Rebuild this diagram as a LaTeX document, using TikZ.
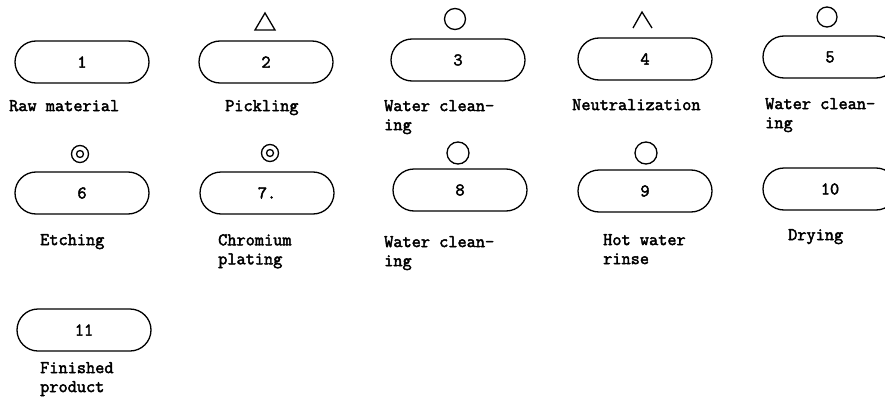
\documentclass[tikz,border=0pt]{standalone}
\usepackage{fontspec}
\newfontfamily\courfont{Latin Modern Mono}[FakeBold=2.5]
\begin{document}
\begin{tikzpicture}[x=1pt,y=-1pt,
  stage/.style={draw, line width=1.3pt, rounded corners=21pt, minimum width=134pt, minimum height=42pt, inner sep=0pt, font=\courfont\fontsize{17.8}{19}\selectfont},
  lbl/.style={anchor=north west, inner sep=0pt, align=left, font=\courfont\fontsize{17.8}{19}\selectfont},
  ring/.style={draw, circle, line width=1.3pt, inner sep=0pt},
  sym/.style={line width=1.3pt, line join=miter}]
\useasboundingbox (0,0) rectangle (885,396);
% row 1
\node[stage] (b1) at (82,62) {1};
\node[stage] (b2) at (266,62) {2};
\node[stage] (b3) at (458,60) {3};
\node[stage] (b4) at (645,59) {4};
\node[stage] (b5) at (830,57) {5};
\draw[sym] (255,30) -- (265,13) -- (275,30) -- cycle;
\node[ring, minimum size=21pt] (s3) at (455,19) {};
\draw[sym] (633,28) -- (642,12) -- (652,28);
\node[ring, minimum size=20pt] (s5) at (827,17) {};
\node[lbl] (l1) at (9,100) {Raw material};
\node[lbl] (l2) at (225,100) {Pickling};
\node[lbl] (l3) at (384,100) {Water clean-\\ing};
\node[lbl] (l4) at (572,99) {Neutralization};
\node[lbl] (l5) at (765,98) {Water clean-\\ing};
% row 2
\node[stage] (b6) at (82,193) {6};
\node[stage] (b7) at (267,193) {7.};
\node[stage] (b8) at (460,190) {8};
\node[stage] (b9) at (645,191) {9};
\node[stage] (b10) at (830,189) {10};
\node[ring, minimum size=17pt] (s6o) at (80,154) {};
\node[ring, minimum size=7pt] (s6i) at (80,154) {};
\node[ring, minimum size=17pt] (s7o) at (270,153) {};
\node[ring, minimum size=7pt] (s7i) at (270,153) {};
\node[ring, minimum size=22pt] (s8) at (458,153) {};
\node[ring, minimum size=22pt] (s9) at (646,153) {};
\node[lbl] (l6) at (40,234) {Etching};
\node[lbl] (l7) at (218,234) {Chromium\\plating};
\node[lbl] (l8) at (384,236) {Water clean-\\ing};
\node[lbl] (l9) at (603,234) {Hot water\\rinse};
\node[lbl] (l10) at (788,229) {Drying};
% row 3
\node[stage] (b11) at (84,330) {11};
\node[lbl] (l11) at (40,362) {Finished\\product};
\end{tikzpicture}
\end{document}
